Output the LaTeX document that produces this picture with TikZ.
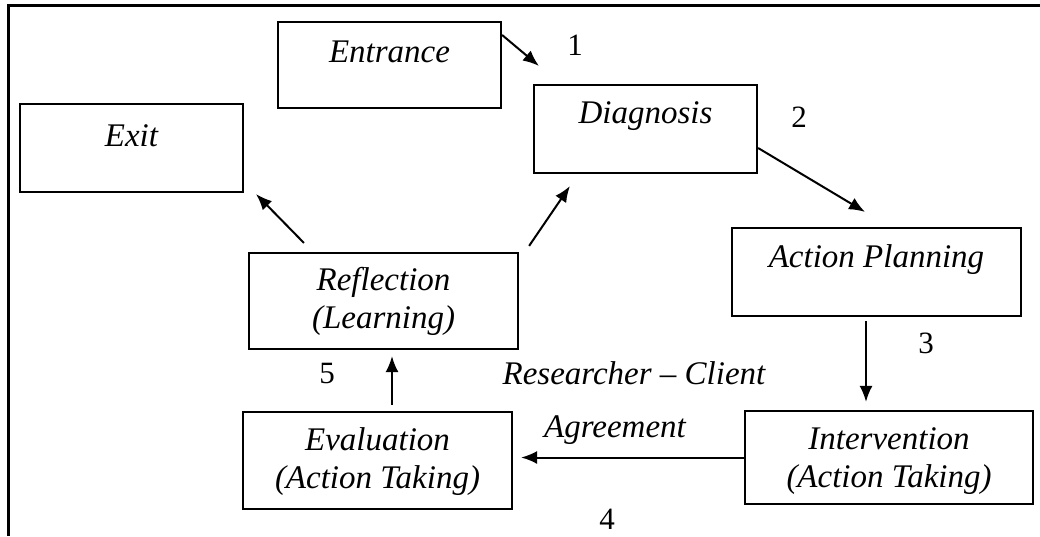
\documentclass[tikz,border=0pt]{standalone}
\usepackage{fontspec}
\setmainfont{Liberation Serif}
\usetikzlibrary{arrows.meta,calc}
\begin{document}
\begin{tikzpicture}[x=1pt,y=1pt,
  box/.style={draw, line width=2.2pt, rectangle, inner sep=0pt},
  txt/.style={font=\fontsize{33}{38}\selectfont\itshape, align=center, inner sep=0pt},
  num/.style={font=\fontsize{31}{36}\selectfont, inner sep=0pt},
  arr/.style={line width=2pt, -{Latex[length=16pt,width=13pt]}}]
\useasboundingbox (0,0) rectangle (1040,-536);
% outer frame (partially visible)
\coordinate (ftl) at (8,-5);
\coordinate (ftr) at (1040,-5);
\coordinate (fbl) at (8,-536);
\draw[line width=3pt] (ftr) -- (ftl) -- (fbl);
% boxes
\node[box, minimum width=223pt, minimum height=86pt] (entrance) at (389.5,-65) {};
\node[box, minimum width=223pt, minimum height=88pt] (exit) at (131.5,-148) {};
\node[box, minimum width=223pt, minimum height=88pt] (diag) at (645.5,-129) {};
\node[box, minimum width=289pt, minimum height=88pt] (plan) at (876.5,-272) {};
\node[box, minimum width=288pt, minimum height=93pt] (interv) at (889,-457.5) {};
\node[box, minimum width=269pt, minimum height=96pt] (refl) at (383.5,-301) {};
\node[box, minimum width=269pt, minimum height=97pt] (eval) at (377.5,-460.5) {};
% box texts
\node[txt] (tentrance) at ([yshift=13pt]entrance.center) {Entrance};
\node[txt] (texit) at ([yshift=12pt]exit.center) {Exit};
\node[txt] (tdiag) at ([yshift=13pt]diag.center) {Diagnosis};
\node[txt] (tplan) at ([yshift=12pt]plan.center) {Action Planning};
\node[txt] (tinterv) at ([yshift=-4pt]interv.center) {Intervention\\(Action Taking)};
\node[txt] (trefl) at (refl.center) {Reflection\\(Learning)};
\node[txt] (teval) at ([yshift=-1pt]eval.center) {Evaluation\\(Action Taking)};
% connectors
\draw[arr] ([yshift=30pt]entrance.east) -- ([shift={(6pt,18pt)}]diag.north west);
\draw[arr] ([yshift=-19pt]diag.east) -- ([shift={(-11.5pt,15pt)}]plan.north);
\draw[arr] ([shift={(-10.5pt,-4pt)}]plan.south) -- ([shift={(-23pt,8pt)}]interv.north);
\draw[arr] (interv.west) -- ([xshift=8pt]interv.west -| eval.east);
\draw[arr] ([shift={(14.5pt,6pt)}]eval.north) -- ([shift={(8.5pt,-6pt)}]refl.south);
\draw[arr] ([shift={(56pt,9pt)}]refl.north west) -- ([shift={(12pt,-1pt)}]exit.south east);
\draw[arr] ([shift={(10pt,6pt)}]refl.north east) -- ([shift={(37pt,-12pt)}]diag.south west);
% labels
\node[num] (n1) at (575,-45) {1};
\node[num] (n2) at (799,-117) {2};
\node[num] (n3) at (926,-343) {3};
\node[num] (n4) at (607,-519) {4};
\node[num] (n5) at (327,-373) {5};
\node[txt] (rc) at (634,-373) {Researcher -- Client};
\node[txt] (agr) at (615,-430) {Agreement};
\end{tikzpicture}
\end{document}
